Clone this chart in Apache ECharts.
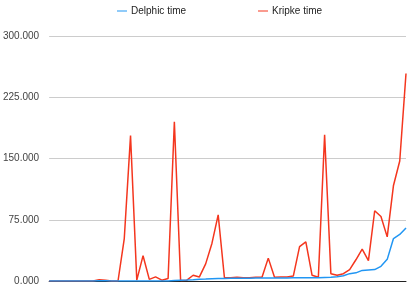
<!DOCTYPE html>
<html>
<head>
<meta charset="utf-8">
<script src="https://cdn.jsdelivr.net/npm/echarts@6/dist/echarts.min.js"></script>
<style>html,body{margin:0;padding:0;background:#fff}#c{width:407px;height:297px}</style>
</head>
<body>
<div id="c"></div>
<script>
var categories = ["1","2","3","4","5","6","7","8","9","10","11","12","13","14","15","16","17","18","19","20","21","22","23","24","25","26","27","28","29","30","31","32","33","34","35","36","37","38","39","40","41","42","43","44","45","46","47","48","49","50","51","52","53","54","55","56","57","58"];
var delphicTime = [0,0,0,0,0,0,0,0,0.3,0.2,0,0,0,0,0,0,0,0,0,0,0.5,1,1.2,1.5,2,2.3,2.7,3,3.2,3.3,3.4,3.5,3.5,3.6,3.6,3.7,3.7,3.8,3.8,3.9,3.9,4,4,4.1,4.3,4.5,5.3,6.5,9,10,13,13.5,14,18,26.5,52,57,65];
var kripkeTime = [0,0,0,0,0,0,0,0,1.5,1,0,0,52,178,1,31,2,5,1,3,195,0.5,1,7,5,21,46,81,4,4,4.5,4,4,4.5,4.5,28,4.5,5,5,6,42,48,7,4.5,179,9,7,9,14,26,39,25,86,79,54,117,147,254];
var yTicks = [0,75,150,225,300];

var chart = echarts.init(document.getElementById('c'), null, {renderer:'canvas'});
chart.setOption({
  animation:false,
  backgroundColor:'#fff',
  textStyle:{fontFamily:'Liberation Sans, Arial, sans-serif'},
  legend:{
    top:1, left:112, itemGap:72, itemWidth:10, itemHeight:10,
    icon:'path://M0,4.5 L10,4.5 L10,5.5 L0,5.5 Z',
    textStyle:{fontSize:10,color:'#222',padding:[0,0,0,-1],fontFamily:'Liberation Sans, Arial, sans-serif'},
    data:['Delphic time','Kripke time']
  },
  grid:{left:47,right:1,top:36,bottom:16,containLabel:false},
  xAxis:{
    type:'category', data:categories, boundaryGap:false,
    axisLine:{show:true,lineStyle:{color:'#222',width:1}},
    axisTick:{show:false}, axisLabel:{show:false}, splitLine:{show:false}
  },
  yAxis:{
    type:'value', min:yTicks[0], max:yTicks[yTicks.length-1], interval:75,
    axisLine:{show:false}, axisTick:{show:false},
    axisLabel:{fontSize:10,color:'#444',margin:10,formatter:function(v){return v.toFixed(3);}},
    splitLine:{lineStyle:{color:'#cccccc',width:1}}
  },
  series:[
    {name:'Delphic time',type:'line',data:delphicTime,showSymbol:false,symbol:'none',z:3,
     lineStyle:{color:'#2196F3',width:1.5},itemStyle:{color:'#2196F3'}},
    {name:'Kripke time',type:'line',data:kripkeTime,showSymbol:false,symbol:'none',z:2,
     lineStyle:{color:'#F4361E',width:1.5},itemStyle:{color:'#F4361E'}}
  ]
});
</script>
</body>
</html>
